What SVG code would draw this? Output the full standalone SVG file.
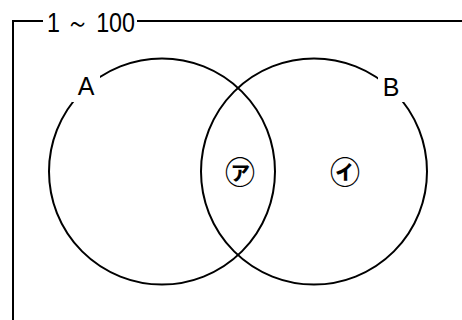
<svg xmlns="http://www.w3.org/2000/svg" width="462" height="320" viewBox="0 0 462 320">
<style>
.ln{fill:none;stroke:#000;stroke-width:2}
.lbl{font-family:"Liberation Sans",Arial,sans-serif;fill:#000}
.jp{font-family:"Noto Sans CJK JP","Noto Sans",sans-serif;fill:#000;font-weight:bold}
</style>
<rect width="462" height="320" fill="#fff"/>
<g id="frame">
<path class="ln" d="M13,320 V21 H43 M137,21 H462"/>
<text class="lbl" x="47" y="32" font-size="27" textLength="88" lengthAdjust="spacingAndGlyphs">1 ～ 100</text>
</g>
<g id="setA">
<circle class="ln" cx="162" cy="171.5" r="113"/>
<rect x="72" y="74" width="28" height="28" fill="#fff"/>
<text class="lbl" x="86" y="95" font-size="25" text-anchor="middle">A</text>
</g>
<g id="setB">
<circle class="ln" cx="314" cy="171.5" r="113"/>
<rect x="378" y="74" width="28" height="28" fill="#fff"/>
<text class="lbl" x="391" y="96" font-size="25" text-anchor="middle">B</text>
</g>
<g id="regionA">
<text class="jp" x="240" y="183" font-size="30" text-anchor="middle">㋐</text>
</g>
<g id="regionI">
<text class="jp" x="345" y="183" font-size="30" text-anchor="middle">㋑</text>
</g>
</svg>
